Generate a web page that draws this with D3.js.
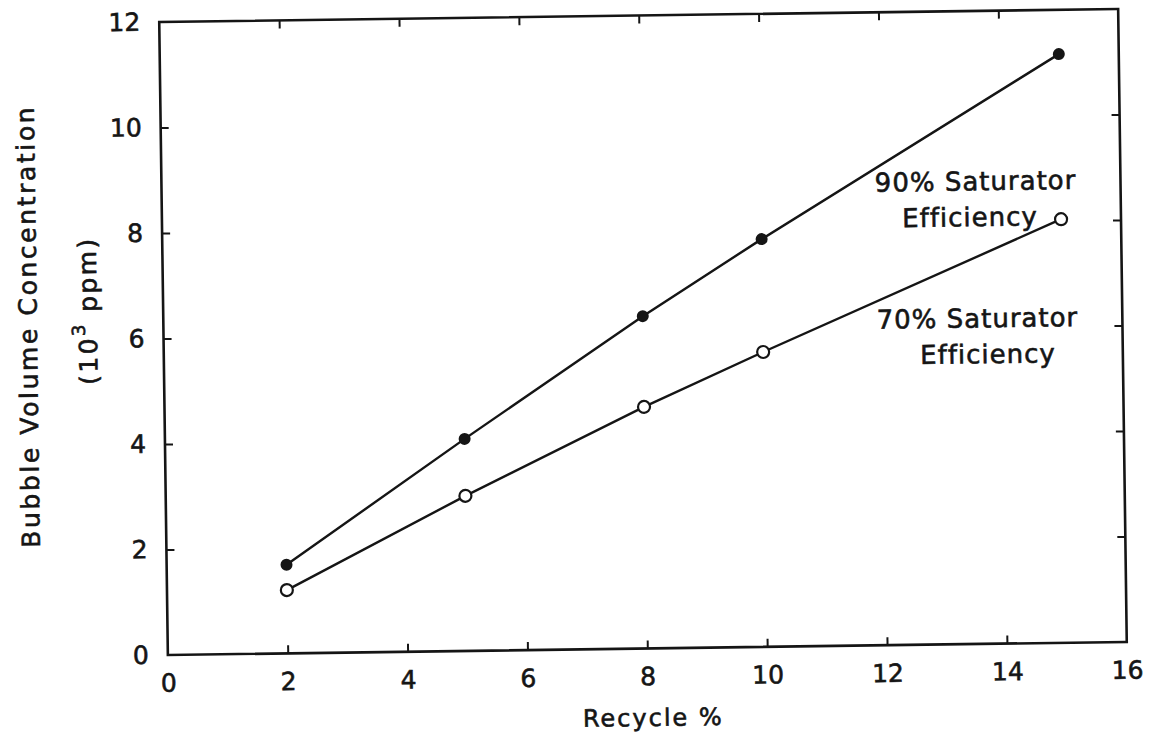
<!DOCTYPE html>
<html>
<head>
<meta charset="utf-8">
<script src="https://cdn.jsdelivr.net/npm/d3@7"></script>
<style>
  body { margin: 0; background: #fff; }
  svg text { font-family: "DejaVu Sans", sans-serif; fill: #151515; stroke: #151515; stroke-width: 0.6px; }
</style>
</head>
<body>
<div class="chart-container"></div>
<script>
// data
const recycle = [2, 5, 8, 10, 15];
const eff90 = [1.68, 4.02, 6.30, 7.73, 11.16];
const eff70 = [1.20, 2.94, 4.58, 5.59, 8.03];
const xTicks = [0, 2, 4, 6, 8, 10, 12, 14, 16];
const yTicks = [0, 2, 4, 6, 8, 10, 12];

const W = 1164, H = 735;
const margin = {top: 15.5, right: 41.5, bottom: 86.5, left: 163.5};
const width = W - margin.left - margin.right;
const height = H - margin.top - margin.bottom;
const ink = "#151515";

const svg = d3.select(".chart-container").append("svg")
  .attr("width", W)
  .attr("height", H);

svg.append("rect").attr("width", W).attr("height", H).attr("fill", "#fff").attr("stroke", "none");

// the scan is tilted a little, so the whole plot is turned to match
const g = svg.append("g")
  .attr("transform", "rotate(-0.78, 643, 332)");

const x = d3.scaleLinear().domain([0, 16]).range([margin.left, margin.left + width]);
const y = d3.scaleLinear().domain([0, 12]).range([margin.top + height, margin.top]);

/* axes: inward ticks on all four sides, labels only bottom/left */
const inner = xTicks.slice(1, -1), innerY = yTicks.slice(1, -1);

const xAxis = g.append("g")
  .attr("transform", "translate(0," + y(0) + ")")
  .call(d3.axisBottom(x).tickValues(xTicks).tickSizeInner(-8).tickSizeOuter(0).tickPadding(19));
xAxis.selectAll("line").filter(d => d === 0 || d === 16).remove();

const yAxis = g.append("g")
  .attr("transform", "translate(" + x(0) + ",0)")
  .call(d3.axisLeft(y).tickValues(yTicks).tickSizeInner(-8).tickSizeOuter(0).tickPadding(19));
yAxis.selectAll("line").filter(d => d === 0 || d === 12).remove();

g.append("g")
  .attr("transform", "translate(0," + y(12) + ")")
  .call(d3.axisTop(x).tickValues(inner).tickSizeInner(-8).tickSizeOuter(0).tickFormat(""));
g.append("g")
  .attr("transform", "translate(" + x(16) + ",0)")
  .call(d3.axisRight(y).tickValues(innerY).tickSizeInner(-8).tickSizeOuter(0).tickFormat(""));

g.selectAll(".domain").remove();
g.selectAll(".tick line").attr("stroke", ink).attr("stroke-width", 2);
g.selectAll(".tick text")
  .style("font-size", "25px")
  .attr("fill", ink);

// frame
g.append("rect")
  .attr("x", x(0)).attr("y", y(12))
  .attr("width", x(16) - x(0)).attr("height", y(0) - y(12))
  .attr("fill", "none")
  .attr("stroke", ink)
  .attr("stroke-width", 2.6);

/* series */
const line = d3.line().x(d => x(d[0])).y(d => y(d[1]));
const s90 = recycle.map((r, i) => [r, eff90[i]]);
const s70 = recycle.map((r, i) => [r, eff70[i]]);

[s90, s70].forEach(s => {
  g.append("path")
    .datum(s)
    .attr("d", line)
    .attr("fill", "none")
    .attr("stroke", ink)
    .attr("stroke-width", 2.4);
});

g.selectAll(".p90").data(s90).enter().append("circle")
  .attr("class", "p90")
  .attr("cx", d => x(d[0])).attr("cy", d => y(d[1]))
  .attr("r", 6)
  .attr("fill", ink);

g.selectAll(".p70").data(s70).enter().append("circle")
  .attr("class", "p70")
  .attr("cx", d => x(d[0])).attr("cy", d => y(d[1]))
  .attr("r", 6)
  .attr("fill", "#fff")
  .attr("stroke", ink)
  .attr("stroke-width", 2.2);

/* series annotations */
const notes = [
  {text: "90% Saturator", at: [11.9, 8.6]},
  {text: "Efficiency", at: [12.35, 7.92]},
  {text: "70% Saturator", at: [11.9, 6.0]},
  {text: "Efficiency", at: [12.62, 5.32]}
];
g.selectAll(".note").data(notes).enter().append("text")
  .attr("class", "note")
  .attr("x", d => x(d.at[0]))
  .attr("y", d => y(d.at[1]))
  .style("font-size", "26px")
  .style("letter-spacing", "1px")
  .text(d => d.text);

/* axis titles */
g.append("text")
  .attr("x", 648).attr("y", 726)
  .attr("text-anchor", "middle")
  .style("font-size", "24px")
  .style("letter-spacing", "2px")
  .text("Recycle %");

g.append("text")
  .attr("transform", "translate(37,318) rotate(-90)")
  .attr("text-anchor", "middle")
  .style("font-size", "25px")
  .style("letter-spacing", "2.6px")
  .text("Bubble Volume Concentration");

const unit = g.append("text")
  .attr("transform", "translate(97,303) rotate(-90)")
  .attr("text-anchor", "middle")
  .style("font-size", "25px")
  .style("letter-spacing", "2.4px");
unit.append("tspan").text("(10");
unit.append("tspan").attr("dy", -12).style("font-size", "18px").text("3");
unit.append("tspan").attr("dy", 12).text(" ppm)");
</script>
</body>
</html>
